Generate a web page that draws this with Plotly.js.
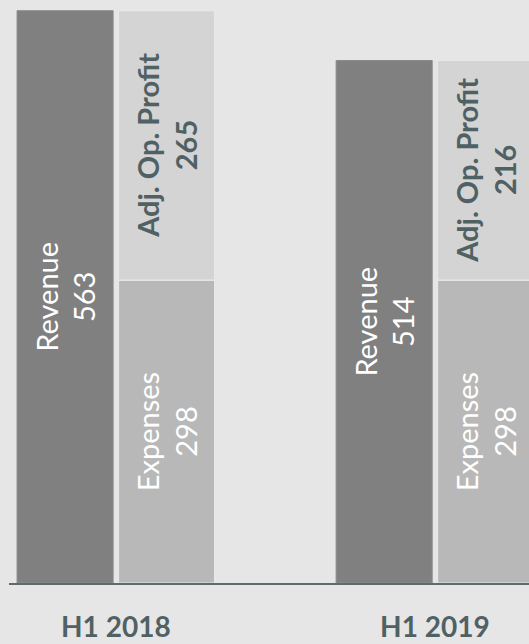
<!DOCTYPE html>
<html>
<head>
<meta charset="utf-8">
<script src="https://cdn.plot.ly/plotly-3.0.1.min.js"></script>
<style>html,body{margin:0;padding:0;background:#e6e6e6;}#chart{width:529px;height:644px;}</style>
</head>
<body>
<div id="chart"></div>
<script>
// Data
const periods = ["H1 2018", "H1 2019"];
const revenue = [563, 514];
const expenses = [298, 298];
const adjOpProfit = [265, 216];

const seriesNames = { revenue: "Revenue", expenses: "Expenses", profit: "Adj. Op. Profit" };

const slate = "#506164";
const labelFont = "Lato, 'Open Sans', sans-serif";

const traces = [
  {
    type: "bar", name: seriesNames.revenue, x: periods, y: revenue,
    offsetgroup: "a",
    marker: { color: "#808080", line: { color: "#8c8c8c", width: 1 } },
    texttemplate: seriesNames.revenue + "<br>%{y}",
    textposition: "inside", insidetextanchor: "middle", textangle: -90,
    constraintext: "none",
    textfont: { family: labelFont, size: 29, color: "#ffffff" }
  },
  {
    type: "bar", name: seriesNames.expenses, x: periods, y: expenses,
    offsetgroup: "b",
    marker: { color: "#b8b8b8", line: { color: "#e8e8e8", width: 1.2 } },
    texttemplate: seriesNames.expenses + "<br>%{y}",
    textposition: "inside", insidetextanchor: "middle", textangle: -90,
    constraintext: "none",
    textfont: { family: labelFont, size: 29, color: "#ffffff" }
  },
  {
    type: "bar", name: seriesNames.profit, x: periods, y: adjOpProfit,
    base: expenses,
    offsetgroup: "b",
    marker: { color: "#d4d4d4", line: { color: "#e8e8e8", width: 1.2 } },
    texttemplate: "<b>" + seriesNames.profit + "<br>%{y}</b>",
    textposition: "inside", insidetextanchor: "middle", textangle: -90,
    constraintext: "none",
    textfont: { family: labelFont, size: 29, color: slate }
  }
];

const layout = {
  width: 529, height: 644,
  paper_bgcolor: "#e6e6e6", plot_bgcolor: "#e6e6e6",
  margin: { l: 9, r: 0, t: 0, b: 61, pad: 0 },
  showlegend: false,
  barmode: "group",
  bargap: 0.364,
  bargroupgap: 0.053,
  xaxis: {
    type: "category",
    range: [-0.3348, 1.295],
    showline: true, linecolor: "#5b6b6e", linewidth: 2,
    showgrid: false, zeroline: false,
    ticks: "outside", ticklen: 18, tickcolor: "rgba(0,0,0,0)",
    tickfont: { family: labelFont, size: 28, color: slate, weight: "bold" }
  },
  yaxis: {
    visible: false, range: [0, 573.5], showgrid: false, zeroline: false
  }
};

Plotly.newPlot("chart", traces, layout, { staticPlot: true, displayModeBar: false });
</script>
</body>
</html>
